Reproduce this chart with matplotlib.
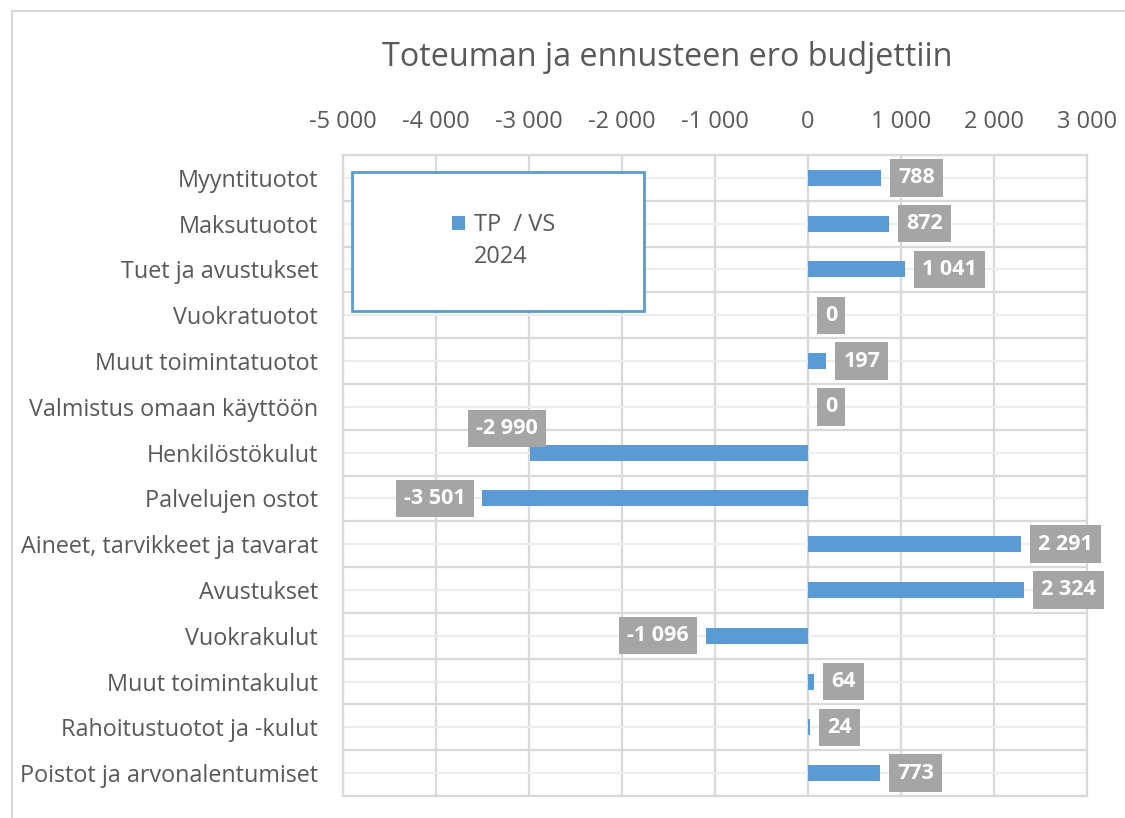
import matplotlib
matplotlib.use("Agg")
import matplotlib.pyplot as plt
from matplotlib.patches import Rectangle
import numpy as np

plt.rcParams['font.family'] = ['Open Sans', 'DejaVu Sans']

categories = [
    "Myyntituotot", "Maksutuotot", "Tuet ja avustukset", "Vuokratuotot",
    "Muut toimintatuotot", "Valmistus omaan käyttöön", "Henkilöstökulut",
    "Palvelujen ostot", "Aineet, tarvikkeet ja tavarat", "Avustukset",
    "Vuokrakulut", "Muut toimintakulut", "Rahoitustuotot ja -kulut",
    "Poistot ja arvonalentumiset",
]
values = [788, 872, 1041, 0, 197, 0, -2990, -3501, 2291, 2324, -1096, 64, 24, 773]
series_name = "TP  / VS"
series_year = "2024"
title = "Toteuman ja ennusteen ero budjettiin"
x_ticks = [-5000, -4000, -3000, -2000, -1000, 0, 1000, 2000, 3000]

BAR = "#5B9BD5"
LBL = "#A5A5A5"
GRID = "#D9D9D9"
GRID_LIGHT = "#EDEDED"
TXT = "#595959"

W, H = 1125, 818
fig = plt.figure(figsize=(W / 100, H / 100), dpi=100)
fig.patch.set_facecolor("white")

# outer chart frame (extends beyond right/bottom edge)
fig.patches.append(Rectangle((12 / W, -0.1), 1.2, 1 - 11 / H + 0.1,
                             transform=fig.transFigure, fill=False,
                             edgecolor=GRID, lw=1.5))

left, right, top, bottom = 343, 1087, 155, 796
ax = fig.add_axes([left / W, 1 - bottom / H, (right - left) / W, (bottom - top) / H])

y = np.arange(len(categories))
bars = ax.barh(y, values, height=0.35, color=BAR, zorder=3, label=series_name)

ax.set_xlim(x_ticks[0], x_ticks[-1])
ax.set_ylim(len(categories) - 0.5, -0.5)

# grid
for xv in x_ticks:
    ax.axvline(xv, color=GRID, lw=1.6, zorder=1)
for b in np.arange(-0.5, len(categories), 1.0):
    ax.axhline(b, color=GRID, lw=1.6, zorder=1)
for c in y:
    ax.axhline(c, color=GRID_LIGHT, lw=1.6, zorder=1)

for s in ax.spines.values():
    s.set_color(GRID)
    s.set_linewidth(1.6)

ax.xaxis.tick_top()
ax.set_xticks(x_ticks)
ax.set_xticklabels([f"{v:,.0f}".replace(",", " ") for v in x_ticks])
ax.set_yticks(y)
ax.set_yticklabels(categories)
ax.tick_params(axis="x", length=0, pad=15, labelsize=17, labelcolor=TXT)
ax.tick_params(axis="y", length=0, pad=18, labelsize=16.8, labelcolor=TXT)

# data labels
label_offsets = {6: (-23, 24)}
fs = 15.5
for i, v in enumerate(values):
    txt = f"{v:,.0f}".replace(",", " ")
    if i in label_offsets:
        dx, dy = label_offsets[i]
        ha = "center"
    elif v < 0:
        dx, dy, ha = -17, 0, "right"
    else:
        dx, dy, ha = 17, 0, "left"
    ax.annotate(txt, xy=(v, i), xytext=(dx, dy), textcoords="offset pixels",
                ha=ha, va="center", color="white", fontsize=fs, fontweight="bold",
                zorder=5,
                bbox=dict(boxstyle="square,pad=0.38", fc=LBL, ec="none"))

# legend box
ax.add_patch(Rectangle((0.012, 0.7566), 0.3925, 0.217, transform=ax.transAxes,
                       fc="white", ec=BAR, lw=2, zorder=6))
leg = ax.legend(handles=[bars], labels=[series_name], loc="center left",
                bbox_to_anchor=(0.1465, 0.8908), frameon=False, borderpad=0,
                borderaxespad=0, handlelength=0.55, handleheight=0.55,
                handletextpad=0.4, fontsize=17, labelcolor=TXT)
leg.set_zorder(7)
ax.text(0.176, 0.8409, series_year, transform=ax.transAxes, ha="left", va="center",
        fontsize=17, color=TXT, zorder=7)

fig.text(667 / W, 1 - 57 / H, title, ha="center", va="center", fontsize=23.3,
         color=TXT)

fig.savefig("out.png", dpi=100)
